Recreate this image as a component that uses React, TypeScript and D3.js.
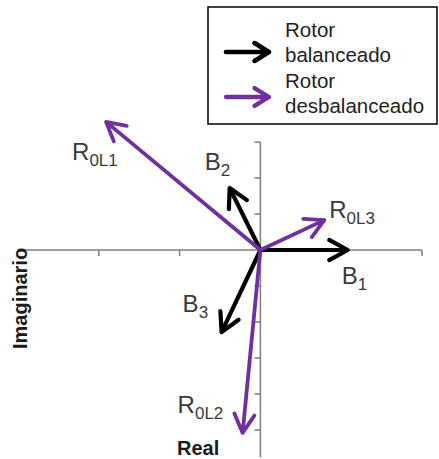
import React from "react";
import * as d3 from "d3";

const W = 439;
const H = 459;

// vectors: name, main label, subscript, series, re, im
const vectorNames = ["B1", "B2", "B3", "R0L1", "R0L2", "R0L3"];
const vectorMain = ["B", "B", "B", "R", "R", "R"];
const vectorSub = ["1", "2", "3", "0L1", "0L2", "0L3"];
const vectorSeries = ["bal", "bal", "bal", "des", "des", "des"];
const vectorRe = [1.08, -0.38, -0.48, -1.91, -0.22, 0.79];
const vectorIm = [0, 1.72, -2.28, 3.56, -5.08, 0.83];

const xTicks = [-2, -1, 1, 2];
const yTicks = [3, 2, 1, -1, -2, -3, -4, -5];

const legendLines = [
  ["Rotor", "balanceado"],
  ["Rotor", "desbalanceado"],
];
const legendSeries = ["bal", "des"];

const colors: Record<string, string> = { bal: "#000000", des: "#7030A0" };
const widths: Record<string, number> = { bal: 4.2, des: 3.8 };

// label pixel offsets from arrow tip
const labelDx = [-6, -25, -39, -34, -65, 5];
const labelDy = [34, -18, -20, 38, -20, -2];

function arrowPath(x0: number, y0: number, x1: number, y1: number, len = 21, ang = 0.5) {
  const a = Math.atan2(y1 - y0, x1 - x0);
  const ax1 = x1 - len * Math.cos(a - ang);
  const ay1 = y1 - len * Math.sin(a - ang);
  const ax2 = x1 - len * Math.cos(a + ang);
  const ay2 = y1 - len * Math.sin(a + ang);
  const p = d3.path();
  p.moveTo(x0, y0);
  p.lineTo(x1, y1);
  p.moveTo(ax1, ay1);
  p.lineTo(x1, y1);
  p.lineTo(ax2, ay2);
  return p.toString();
}

export default function App() {
  const x = d3.scaleLinear().domain([-3, 2]).range([18, 422]);
  const y = d3.scaleLinear().domain([3, -5]).range([142, 430]);
  const x0 = x(0);
  const y0 = y(0);
  const yBottom = y(-5.76);
  const labelFont = "'Liberation Sans', Arial, sans-serif";

  return (
    <svg width={W} height={H} style={{ position: "absolute", left: 0, top: 0, background: "#fff" }}>
      {/* axes */}
      <g stroke="#7f7f7f" strokeWidth={1.5} fill="none">
        <line x1={x(-3)} y1={y0} x2={x(2)} y2={y0} />
        <line x1={x0} y1={y(3)} x2={x0} y2={yBottom} />
        {xTicks.map((t) => (
          <line key={"xt" + t} x1={x(t)} x2={x(t)} y1={y0} y2={y0 + 6} />
        ))}
        {yTicks.map((t) => (
          <line key={"yt" + t} x1={x0 - 6} x2={x0} y1={y(t)} y2={y(t)} />
        ))}
      </g>

      {/* vectors */}
      {vectorNames.map((n, i) => {
        const s = vectorSeries[i];
        return (
          <path
            key={n}
            d={arrowPath(x0, y0, x(vectorRe[i]), y(vectorIm[i]))}
            stroke={colors[s]}
            strokeWidth={widths[s]}
            fill="none"
            strokeLinecap="round"
            strokeLinejoin="round"
          />
        );
      })}

      {/* labels */}
      {vectorNames.map((n, i) => {
        const tx = x(vectorRe[i]) + labelDx[i];
        const ty = y(vectorIm[i]) + labelDy[i];
        return (
          <text key={"l" + n} x={tx} y={ty} fontFamily={labelFont} fill="#3a3a3a" fontSize={24}>
            {vectorMain[i]}
            <tspan dy={6} fontSize={17}>
              {vectorSub[i]}
            </tspan>
          </text>
        );
      })}

      {/* axis titles */}
      <text x={177} y={455} fontFamily="'Liberation Sans', Arial, sans-serif" fontWeight="bold" fontSize={20} fill="#1a1a1a">
        Real
      </text>
      <text
        transform={`translate(27,349) rotate(-90)`}
        fontFamily="'Liberation Sans', Arial, sans-serif"
        fontWeight="bold"
        fontSize={20}
        fill="#1a1a1a"
      >
        Imaginario
      </text>

      {/* legend */}
      <rect x={208} y={7} width={229} height={117} fill="#fff" stroke="#000" strokeWidth={1.5} />
      {legendSeries.map((s, i) => {
        const ly = 52 + i * 45;
        return (
          <g key={"lg" + s}>
            <path
              d={arrowPath(226, ly, 269, ly, 17, 0.55)}
              stroke={colors[s]}
              strokeWidth={widths[s] + 0.5}
              fill="none"
              strokeLinecap="round"
              strokeLinejoin="round"
            />
            {legendLines[i].map((t, j) => (
              <text
                key={j}
                x={285}
                y={37 + i * 51 + j * 25}
                fontFamily="'Liberation Sans', Arial, sans-serif"
                fontSize={20.5}
                fill="#222"
              >
                {t}
              </text>
            ))}
          </g>
        );
      })}
    </svg>
  );
}
